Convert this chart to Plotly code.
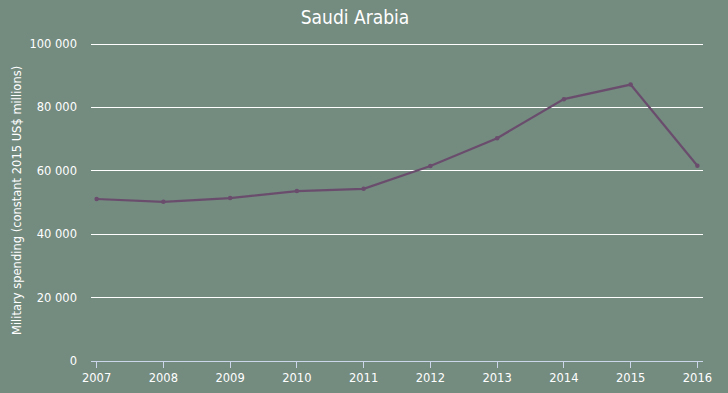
import plotly.graph_objects as go

years = [2007, 2008, 2009, 2010, 2011, 2012, 2013, 2014, 2015, 2016]
spending = [51100, 50200, 51400, 53600, 54300, 61500, 70300, 82600, 87200, 61600]
y_ticks = [0, 20000, 40000, 60000, 80000, 100000]
y_title = "Military spending (constant 2015 US$ millions)"

bg = "#748b80"
fig = go.Figure()
fig.add_trace(go.Scatter(
    x=years, y=spending, mode="lines+markers",
    line=dict(color="#6a4d6d", width=2.2),
    marker=dict(size=4.5, color="#6a4d6d"),
    hoverinfo="x+y", showlegend=False,
))
fig.add_annotation(
    text=y_title, textangle=-90, xref="paper", yref="paper",
    x=(17 - 91) / 612, y=0.5, xanchor="center", yanchor="middle",
    showarrow=False, font=dict(size=11.5, color="#ffffff"),
)
fig.update_layout(
    width=728, height=393,
    paper_bgcolor=bg, plot_bgcolor=bg,
    margin=dict(l=91, r=25, t=41, b=32),
    separators=". ",
    font=dict(family="DejaVu Sans", color="#ffffff", size=11),
    title=dict(text="Saudi Arabia", x=355/728, xanchor="center", xref="container",
               y=1-17/393, yanchor="middle",
               font=dict(family="DejaVu Sans Condensed", size=19, color="#ffffff")),
    xaxis=dict(
        range=[2006.916, 2016.084], tickvals=years, ticktext=[str(y) for y in years],
        showgrid=False, zeroline=False, showline=True, linecolor="#ccd6eb", linewidth=1,
        ticks="outside", ticklen=6, tickcolor="#ccd6eb", tickfont=dict(size=11.5, color="#ffffff"),
        automargin=False,
    ),
    yaxis=dict(
        range=[0, 100000 * 320 / 317], tickvals=y_ticks, tickformat=",d",
        showgrid=True, gridcolor="#ffffff", gridwidth=1, zeroline=False,
        ticks="", ticklabelstandoff=13, automargin=False,
        tickfont=dict(size=11.5, color="#ffffff"),
    ),
)
fig.write_html("out.html", config={"displayModeBar": False},
               post_script="document.body.style.margin='0';")
